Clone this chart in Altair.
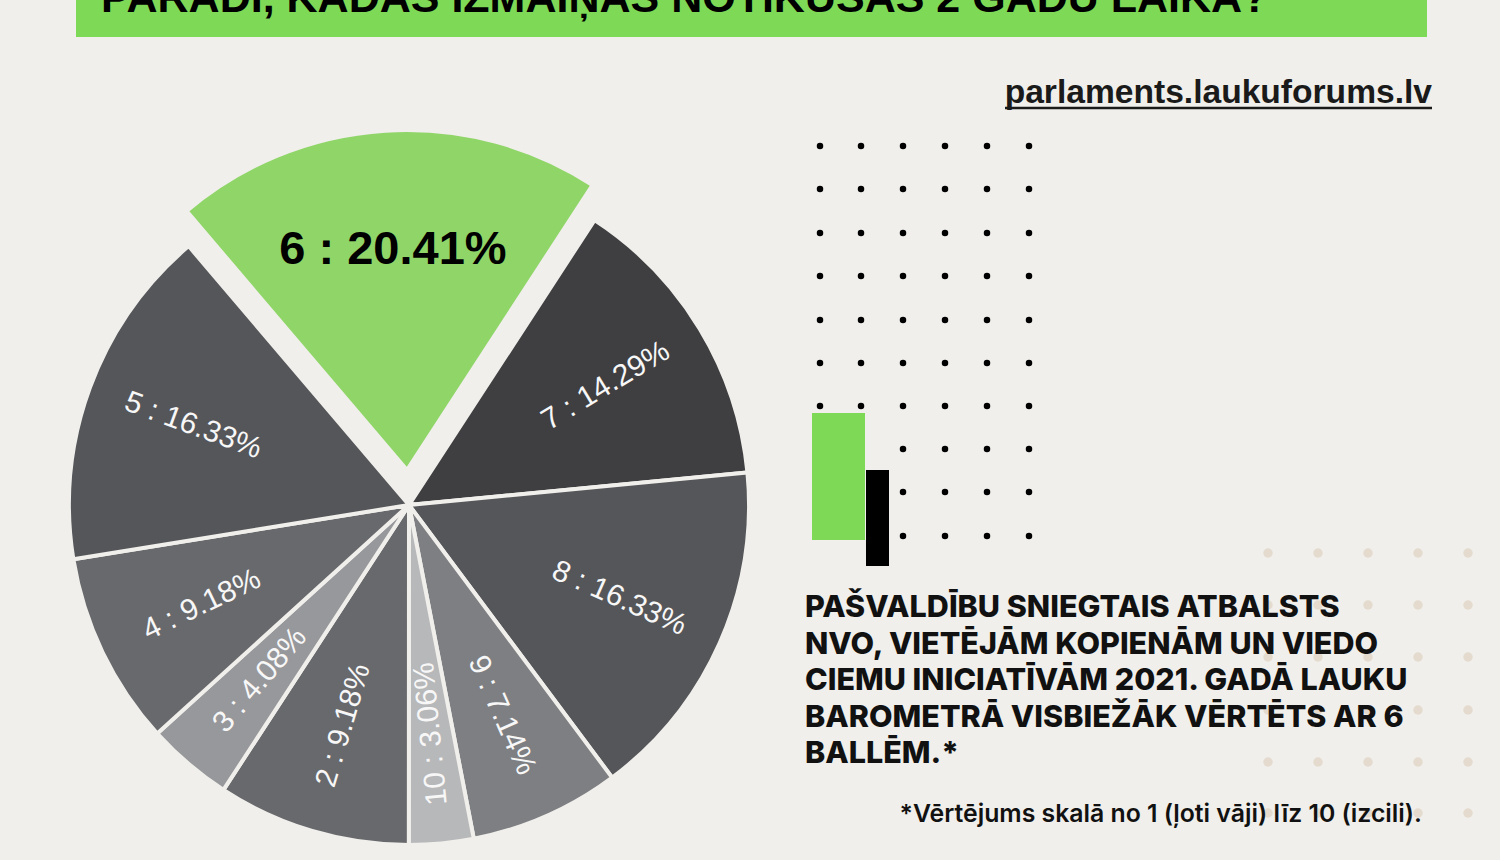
import math
import altair as alt
import pandas as pd

# ---------------- data ----------------
scores = ["6", "7", "8", "9", "10", "2", "3", "4", "5"]
shares = [20.41, 14.29, 16.33, 7.14, 3.06, 9.18, 4.08, 9.18, 16.33]
slice_colors = ["#8fd568", "#3f3f41", "#555659", "#7e7f82", "#b7b8ba",
                "#68696c", "#97989b", "#68696c", "#555659"]

title_text = "PARĀDĪ, KĀDAS IZMAIŅAS NOTIKUŠAS 2 GADU LAIKĀ?"
url_text = "parlaments.laukuforums.lv"
para_lines = [
    "PAŠVALDĪBU SNIEGTAIS ATBALSTS",
    "NVO, VIETĒJĀM KOPIENĀM UN VIEDO",
    "CIEMU INICIATĪVĀM 2021. GADĀ LAUKU",
    "BAROMETRĀ VISBIEŽĀK VĒRTĒTS AR 6",
    "BALLĒM.*",
]
footnote = "*Vērtējums skalā no 1 (ļoti vāji) līz 10 (izcili)."

# decoration grids (layout only)
dot_cols = [820, 861, 903, 945, 987, 1029]
dot_rows = [146, 189, 233, 276, 320, 363, 406, 449, 492, 536]
beige_cols = [1268, 1318, 1368, 1418, 1468]
beige_rows = [553, 605, 657, 710, 762, 813]

# ---------------- styling ----------------
BG = "#f0efeb"
GREEN = "#7ed957"
NARROW = "Liberation Sans Narrow, Liberation Sans, Arial, sans-serif"
START_DEG = -40.4
CX, CY, R = 409, 505, 340

pie_df = pd.DataFrame({"score": scores, "share": shares, "order": list(range(len(scores)))})

theta_scale = alt.Scale(domain=[0, 100],
                        range=[math.radians(START_DEG), math.radians(START_DEG) + 2 * math.pi])
color_scale = alt.Scale(domain=scores, range=slice_colors)

base = alt.Chart(pie_df).transform_window(
    end="sum(share)", sort=[alt.SortField("order")], frame=[None, 0]
).transform_calculate(
    start="datum.end - datum.share",
    mid="datum.end - datum.share / 2",
    label="datum.score + ' : ' + format(datum.share, '.2f') + '%'",
).transform_calculate(
    middeg=f"{START_DEG} + datum.mid * 3.6"
).transform_calculate(
    ang="((datum.middeg < 170 ? datum.middeg - 90 : datum.middeg - 270) + 360) % 360"
)

arcs = base.transform_filter("datum.score != '6'").mark_arc(
    outerRadius=R, stroke=BG, strokeWidth=4
).encode(
    theta=alt.Theta("start:Q", scale=theta_scale),
    theta2="end:Q",
    color=alt.Color("score:N", scale=color_scale, legend=None),
    x=alt.value(CX), y=alt.value(CY),
)

arc6 = base.transform_filter("datum.score == '6'").mark_arc(
    outerRadius=R, stroke=BG, strokeWidth=4, xOffset=-2, yOffset=-35
).encode(
    theta=alt.Theta("start:Q", scale=theta_scale),
    theta2="end:Q",
    color=alt.Color("score:N", scale=color_scale, legend=None),
    x=alt.value(CX), y=alt.value(CY),
)

labels = base.transform_filter("datum.score != '6'").mark_text(
    radius=230, font=NARROW, fontSize=30, color="#f7f7f7", align="center", baseline="middle"
).encode(
    theta=alt.Theta("mid:Q", scale=theta_scale),
    text="label:N",
    angle=alt.Angle("ang:Q", scale=None),
    x=alt.value(CX), y=alt.value(CY),
)

label6 = base.transform_filter("datum.score == '6'").mark_text(
    radius=220, font=NARROW, fontSize=47, fontWeight="bold", color="black",
    align="center", baseline="middle", xOffset=-2, yOffset=-35
).encode(
    theta=alt.Theta("mid:Q", scale=theta_scale),
    text="label:N",
    x=alt.value(CX), y=alt.value(CY),
)

one = alt.Data(values=[{"k": 1}])

header = alt.Chart(one).mark_rect(color=GREEN).encode(
    x=alt.value(76), x2=alt.value(1427), y=alt.value(0), y2=alt.value(37)
)
title = alt.Chart(one).mark_text(
    font=NARROW, fontSize=43, fontWeight="bold", color="black", align="left", baseline="alphabetic"
).encode(x=alt.value(101), y=alt.value(12), text=alt.value(title_text))

url = alt.Chart(one).mark_text(
    font=NARROW, fontSize=33.6, fontWeight="bold", color="#1a1a1a", align="right", baseline="alphabetic"
).encode(x=alt.value(1432), y=alt.value(103), text=alt.value(url_text))
url_line = alt.Chart(one).mark_rule(color="#1a1a1a", strokeWidth=2.5).encode(
    x=alt.value(1005), x2=alt.value(1432), y=alt.value(108)
)

dots_df = pd.DataFrame([{"x": x, "y": y} for y in dot_rows for x in dot_cols])
dots = alt.Chart(dots_df).mark_circle(size=42, color="black", opacity=1).encode(
    x=alt.X("x:Q", scale=None), y=alt.Y("y:Q", scale=None)
)
beige_df = pd.DataFrame([{"x": x, "y": y} for y in beige_rows for x in beige_cols])
beige = alt.Chart(beige_df).mark_circle(size=90, color="#e4dbce", opacity=1).encode(
    x=alt.X("x:Q", scale=None), y=alt.Y("y:Q", scale=None)
)

green_box = alt.Chart(one).mark_rect(color=GREEN).encode(
    x=alt.value(812), x2=alt.value(865), y=alt.value(413), y2=alt.value(540)
)
black_box = alt.Chart(one).mark_rect(color="black").encode(
    x=alt.value(866), x2=alt.value(889), y=alt.value(470), y2=alt.value(566)
)

para = alt.Chart(one).mark_text(
    font="Inter", fontSize=30.5, fontWeight=800, color="#111111", align="left",
    baseline="alphabetic", lineHeight=36.6
).encode(x=alt.value(805), y=alt.value(617), text=alt.value(para_lines))

foot = alt.Chart(one).mark_text(
    font="Inter", fontSize=24.8, fontWeight=600, color="#111111", align="right", baseline="alphabetic"
).encode(x=alt.value(1422), y=alt.value(822), text=alt.value(footnote))

chart = alt.layer(
    header, title, url, url_line, beige, dots, green_box, black_box,
    arcs, arc6, labels, label6, para, foot
).properties(
    width=1500, height=860, padding=0, background=BG,
    autosize=alt.AutoSizeParams(type="none")
).configure_view(stroke=None)

chart.save("out.html", embed_options={"renderer": "svg", "actions": False})
